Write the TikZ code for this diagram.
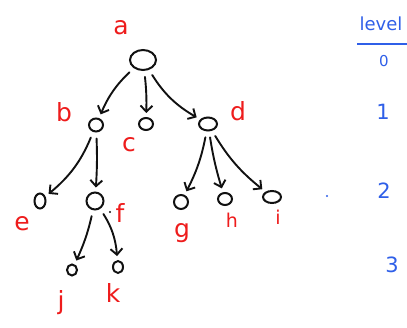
\documentclass[tikz,border=0pt]{standalone}
\usepackage{fontspec}
\setmainfont{DejaVu Sans}
\usetikzlibrary{arrows.meta,shapes.geometric}
\definecolor{ink}{HTML}{111111}
\definecolor{redink}{HTML}{EE1C1C}
\definecolor{blueink}{HTML}{2F5FE8}
\tikzset{
  vert/.style={draw=ink, line width=2pt, ellipse, inner sep=0pt},
  edge/.style={draw=ink, line width=1.9pt, line cap=round, -{Straight Barb[length=6pt,width=12pt,line width=1.9pt]}, shorten >=4pt, shorten <=6pt},
  lab/.style={text=redink, font=\fontsize{25}{25}\selectfont},
  lvl/.style={text=blueink, font=\fontsize{21}{21}\selectfont}
}
\begin{document}
\begin{tikzpicture}[x=1pt,y=-1pt]
  \useasboundingbox (0,0) rectangle (407,328);
  % vertices
  \node[vert, minimum width=26pt, minimum height=20pt] (a) at (143,60) {};
  \node[vert, minimum width=14pt, minimum height=13pt] (b) at (96,125) {};
  \node[vert, minimum width=14pt, minimum height=12pt] (c) at (146,124) {};
  \node[vert, minimum width=18pt, minimum height=13pt] (d) at (208,124) {};
  \node[vert, minimum width=11pt, minimum height=15pt] (e) at (40,201) {};
  \node[vert, minimum width=17pt, minimum height=17pt] (f) at (95,201) {};
  \node[vert, minimum width=14pt, minimum height=14pt] (g) at (181,202) {};
  \node[vert, minimum width=14pt, minimum height=12pt] (h) at (225,199) {};
  \node[vert, minimum width=18pt, minimum height=12pt] (i) at (272,197) {};
  \node[vert, minimum width=10pt, minimum height=11pt] (j) at (72,270) {};
  \node[vert, minimum width=10pt, minimum height=12pt] (k) at (118,267) {};
  % labels
  \node[lab] (la) at (121,28) {a};
  \node[lab] (lb) at (64,112) {b};
  \node[lab] (lc) at (129,145) {c};
  \node[lab] (ld) at (238,111) {d};
  \node[lab] (le) at (22,224) {e};
  \node[lab] (lf) at (120,213) {f};
  \node[lab] (lg) at (182,233) {g};
  \node[lab, font=\fontsize{19}{19}\selectfont] (lh) at (232,220) {h};
  \node[lab, font=\fontsize{19}{19}\selectfont] (li) at (278,217) {i};
  \node[lab] (lj) at (61,303) {j};
  \node[lab] (lk) at (113,293) {k};
  % stray pen marks
  \fill[ink] (110,212) circle (1.2pt);
  \fill[blueink] (327,196) circle (1.2pt);
  % edges
  \draw[edge] (a) to[bend right=12] (b);
  \draw[edge] (a) to[bend left=4] (c);
  \draw[edge] (a) to[bend right=14] (d);
  \draw[edge] (b) to[bend left=14] (e);
  \draw[edge] (b) to[bend left=3] (f);
  \draw[edge] (d) to[bend left=8] (g);
  \draw[edge] (d) to[bend right=4] (h);
  \draw[edge] (d) to[bend right=10] (i);
  \draw[edge] (f) to[bend left=6] (j);
  \draw[edge] (f) to[bend left=14] (k);
  % level column
  \node[lvl, font=\fontsize{18}{18}\selectfont] (lv) at (381,24) {level};
  \coordinate (ul) at (357,44);
  \coordinate (ur) at (407,44);
  \draw[blueink, line width=1.8pt] (ul) -- (ur);
  \node[lvl, font=\fontsize{15}{15}\selectfont] (l0) at (384,61) {0};
  \node[lvl] (l1) at (383,112) {1};
  \node[lvl] (l2) at (384,191) {2};
  \node[lvl] (l3) at (392,265) {3};
\end{tikzpicture}
\end{document}
